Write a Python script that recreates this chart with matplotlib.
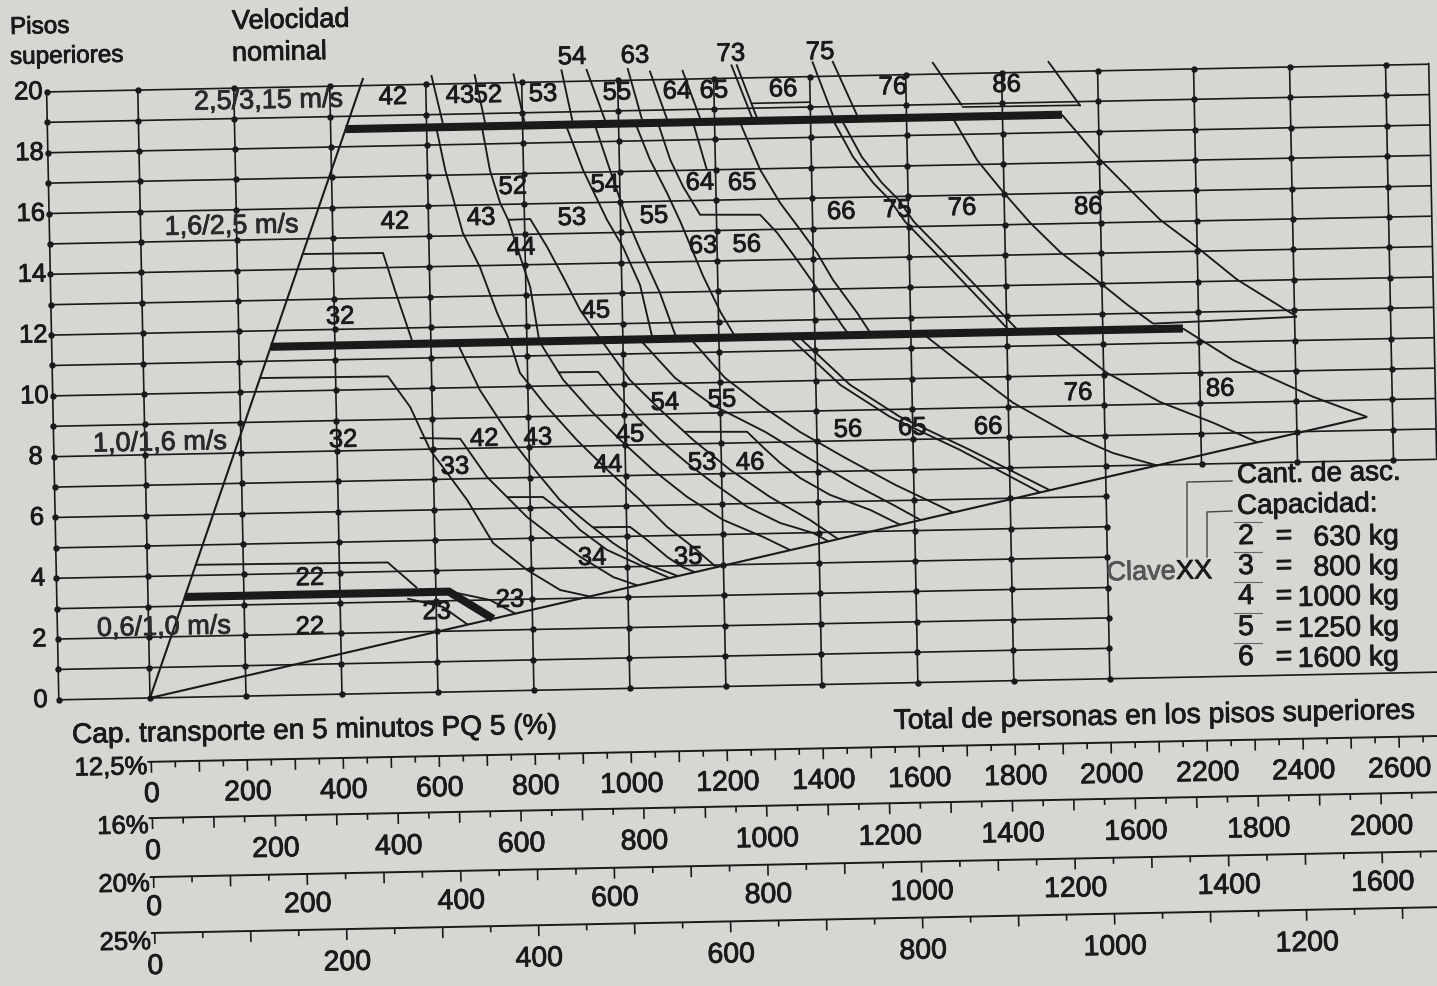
import matplotlib
matplotlib.use("Agg")
import matplotlib.pyplot as plt
import matplotlib.patheffects as pe
from matplotlib.transforms import Affine2D
from matplotlib.lines import Line2D

# ====================== DATA ======================
# x = total persons in upper floors (12,5 % scale), y = number of upper floors
floor_ticks = [0, 2, 4, 6, 8, 10, 12, 14, 16, 18, 20]
grid_floors = list(range(0, 21))
grid_persons = [0, 200, 400, 600, 800, 1000, 1200, 1400, 1600, 1800, 2000, 2200, 2400, 2600]

speed_line = [(0, 0.0), (470, 20.25)]
base_line = [(0, 0.0), (2547, 8.44)]

thick_25 = [(431, 18.58), (1924, 18.58)]
thick_16 = [(266, 11.47), (2167, 11.47)]
thick_10 = [(77, 3.3), (627, 3.3), (718, 2.38)]

# ---- band 2,5/3,15 m/s : short boundaries between 20 and 18,6 floors
top_start_p = [612, 702, 783, 883, 935, 1021, 1067, 1135, 1237, 1248, 1406, 1448, 1656, 1897]
top_start_f = [20.3, 20.3, 20.3, 20.4, 20.4, 20.4, 20.3, 20.3, 20.45, 20.45, 20.5, 20.5, 20.4, 20.35]
top_end_p = [634, 722, 804, 904, 972, 1049, 1101, 1170, 1278, 1288, 1447, 1497, 1716, 1963]
top_end_f = [18.7, 18.7, 18.7, 18.7, 18.7, 18.7, 18.7, 18.7, 18.7, 18.7, 18.7, 18.7, 18.95, 18.85]
top_step66 = [(1278, 19.16), (1400, 19.16)]
top_edge = [(1716, 18.9), (1963, 18.88)]

# ---- band 1,6/2,5 m/s
mid_c0 = [(335, 14.5), (504, 14.48), (527, 13.26), (563, 11.47)]
mid_p1 = [(620, 18.58), (637, 17.17), (671, 15.09), (705, 13.96), (739, 12.44), (765, 11.47)]
mid_p2 = [(715, 18.58), (730, 17.14), (750, 16.05), (766, 15.49), (783, 14.6), (809, 13.27), (826, 11.47)]
mid_s44 = [(766, 15.49), (812, 15.5), (846, 14.57), (878, 13.58), (912, 12.48), (955, 11.47)]
mid_p3 = [(890, 18.58), (924, 17.08), (972, 15.42), (1004, 14.52), (1038, 13.26), (1062, 11.47)]
mid_p4 = [(950, 18.58), (980, 17.07), (1010, 15.58), (1040, 14.41), (1079, 12.99), (1112, 11.47)]
mid_p5 = [(1035, 18.58), (1064, 17.37), (1098, 16.27), (1125, 15.3), (1145, 14.5), (1170, 13.5), (1205, 12.3), (1235, 11.47)]
mid_p6 = [(1082, 18.58), (1106, 17.36), (1132, 16.46), (1166, 15.53), (1291, 15.49), (1326, 14.88),
          (1366, 13.98), (1413, 12.88), (1459, 11.75), (1472, 11.47)]
mid_p7 = [(1155, 18.58), (1182, 17.0)]
mid_p8 = [(1252, 18.58), (1293, 16.97), (1333, 15.87), (1374, 14.97), (1408, 14.2), (1440, 13.3), (1489, 12.2), (1518, 11.47)]
mid_p9a = [(1446, 18.58), (1487, 17.33), (1528, 16.46), (1562, 15.89), (1593, 15.16), (1684, 13.62), (1808, 11.47)]
mid_p9b = [(1464, 18.58), (1505, 17.33), (1546, 16.46), (1580, 15.89), (1611, 15.16), (1702, 13.62), (1826, 11.47)]
mid_p10 = [(1695, 18.58), (1745, 17.15), (1798, 16.08), (1853, 15.05), (1914, 14.07), (1996, 13.03), (2052, 12.29), (2105, 11.65)]
mid_p11 = [(1924, 18.58), (2002, 17.07), (2124, 15.06), (2206, 14.05), (2282, 13.04), (2405, 11.78)]
mid_edge = [(2105, 11.65), (2405, 11.78)]

# ---- band 1,0/1,6 m/s
low_e1 = [(243, 10.45), (509, 10.42), (554, 9.4), (594, 7.97), (669, 6.3), (721, 4.87), (791, 3.96), (859, 3.28), (920, 3.05)]
low_e2 = [(573, 8.37), (657, 8.32), (711, 7.05), (793, 5.7), (846, 5.03), (902, 4.36), (970, 3.67), (1020, 3.38)]
low_a = [(655, 11.47), (700, 9.91), (735, 9.02), (775, 8.02), (816, 7.15), (862, 6.24), (918, 5.47), (971, 4.79), (1033, 4.12), (1105, 3.66)]
low_b = [(765, 11.47), (784, 10.45), (839, 9.31), (900, 8.2), (962, 7.2), (1029, 6.19), (1084, 5.29), (1137, 4.61), (1185, 3.93)]
low_c = [(826, 11.47), (874, 10.19), (929, 9.18), (990, 8.18), (1057, 7.17), (1127, 6.26), (1201, 5.48), (1284, 4.89), (1340, 4.44)]
low_d = [(955, 11.47), (1013, 10.14), (1075, 9.14), (1142, 8.13), (1218, 7.12), (1300, 6.2), (1382, 5.42), (1440, 4.77)]
low_e = [(1035, 11.47), (1107, 10.18), (1183, 9.27), (1292, 8.35), (1381, 7.46), (1478, 6.54), (1556, 5.86), (1612, 5.35)]
low_f = [(1140, 11.47), (1211, 10.15), (1283, 9.24), (1365, 8.32), (1458, 7.44), (1561, 6.52), (1681, 5.57)]
low_g1 = [(1345, 11.47), (1451, 9.84), (1553, 8.76), (1698, 7.62), (1863, 6.17)]
low_g2 = [(1365, 11.47), (1471, 9.84), (1573, 8.76), (1718, 7.62), (1883, 6.24)]
low_h = [(1625, 11.47), (1701, 10.49), (1810, 9.14), (1921, 8.11), (2016, 7.42), (2108, 6.98)]
low_i = [(1895, 11.47), (2007, 10.06), (2116, 9.07), (2226, 8.35), (2317, 7.68)]
low_j = [(2167, 11.47), (2270, 10.4), (2326, 9.96), (2435, 9.14), (2547, 8.44)]
low_s45 = [(864, 10.44), (947, 10.43), (977, 9.83), (1026, 8.92), (1073, 8.15), (1128, 7.38), (1182, 6.7),
           (1252, 5.89), (1320, 5.34), (1388, 4.99), (1420, 4.7)]
low_s46 = [(1124, 8.4), (1255, 8.36), (1287, 7.85), (1322, 7.32), (1363, 6.81), (1425, 6.23), (1508, 5.71), (1570, 5.2)]
low_s34 = [(752, 6.37), (827, 6.35), (862, 5.91), (903, 5.24), (958, 4.57), (1026, 4.05), (1085, 3.62)]
low_s35 = [(930, 5.32), (1007, 5.31), (1042, 4.87), (1083, 4.3), (1115, 3.95), (1140, 3.78)]

# ---- band 0,6/1,0 m/s
bot_step22 = [(101, 4.35), (501, 4.3), (561, 3.44)]
bot_t1 = [(630, 3.3), (712, 3.0), (765, 2.53)]
bot_t2 = [(540, 3.1), (614, 2.8), (665, 2.2)]

# ---- curve keys (Clave XX: number of lifts, capacity code)
top_labels = [("42", 531, 19.6), ("43", 671, 19.6), ("52", 729, 19.6), ("53", 844, 19.6), ("55", 998, 19.6),
              ("64", 1123, 19.6), ("65", 1200, 19.6), ("66", 1344, 19.6), ("76", 1573, 19.6), ("86", 1810, 19.6),
              ("54", 906, 20.8), ("63", 1037, 20.8), ("73", 1237, 20.8), ("75", 1423, 20.8)]
mid_labels = [("42", 530, 15.5), ("43", 710, 15.57), ("52", 777, 16.57), ("44", 792, 14.56), ("53", 899, 15.51),
              ("54", 969, 16.58), ("55", 1070, 15.52), ("64", 1167, 16.58), ("65", 1255, 16.55), ("63", 1171, 14.5),
              ("56", 1262, 14.51), ("66", 1460, 15.53), ("75", 1577, 15.56), ("76", 1712, 15.58), ("86", 1975, 15.53),
              ("45", 945, 12.44), ("32", 412, 12.41)]
low_labels = [("32", 413, 8.36), ("33", 645, 7.4), ("42", 707, 8.3), ("43", 819, 8.3), ("45", 1011, 8.34),
              ("44", 964, 7.36), ("54", 1085, 9.37), ("55", 1204, 9.43), ("53", 1160, 7.37), ("46", 1260, 7.34),
              ("34", 927, 4.32), ("35", 1127, 4.28), ("56", 1465, 8.36), ("65", 1599, 8.38), ("66", 1757, 8.36),
              ("76", 1946, 9.42), ("86", 2242, 9.46)]
bot_labels = [("22", 338, 3.84), ("22", 336, 2.23), ("23", 601, 2.64), ("23", 754, 2.99)]
speed_labels = [("2,5/3,15 m/s", 428, 19.55), ("1,6/2,5 m/s", 330, 15.45),
                ("1,0/1,6 m/s", 172, 8.37), ("0,6/1,0 m/s", 172, 2.3)]

# ---- transport-capacity scales below the chart
scale_pct = [12.5, 16, 20, 25]
scale_names = ["12,5%", "16%", "20%", "25%"]
scale_max = [2600, 2000, 1600, 1200]

# ---- legend
legend_codes = ["2", "3", "4", "5", "6"]
legend_kg = ["630 kg", "800 kg", "1000 kg", "1250 kg", "1600 kg"]

# ====================== LAYOUT / STYLE ======================
W, H = 1437, 986
BG = "#d6d6d3"
INK = "#1a1a1a"
TILT = 1.15
plt.rcParams["font.family"] = ["Liberation Sans", "DejaVu Sans"]

fig = plt.figure(figsize=(W / 100, H / 100), dpi=100)
fig.patch.set_facecolor(BG)
ax = fig.add_axes([0, 0, 1, 1])
ax.set_facecolor(BG)
ax.set_xlim(-312.5, 2681.25)
ax.set_ylim(-9.474, 22.96)
ax.axis("off")
tr = ax.transData + Affine2D().rotate_deg_around(150, H - 698, TILT)


def draw(pts, lw=1.35, color=INK, z=3, **kw):
    ax.plot([q[0] for q in pts], [q[1] for q in pts], transform=tr, color=color, lw=lw,
            zorder=z, solid_capstyle="butt", solid_joinstyle="miter", **kw)


def label(s, p, f, size=18, ha="center", color=INK, stroke=True, **kw):
    t = ax.text(p, f, s, transform=tr, rotation=TILT, rotation_mode="anchor", ha=ha, va="center",
                fontsize=size, color=color, zorder=6, **kw)
    if stroke:
        t.set_path_effects([pe.withStroke(linewidth=0.6, foreground=color)])


LEFT, RIGHT = -190, 2690

# grid
for f in grid_floors:
    x1 = 2000 if 1 <= f <= 6 else RIGHT
    draw([(LEFT, f), (x1, f)], lw=1.2, z=1)
verticals = [LEFT] + grid_persons
for p in verticals:
    f0 = 0 if p <= 2000 else 7
    draw([(p, f0), (p, 20)], lw=1.2, z=1)
    ax.plot([p] * (21 - f0), list(range(f0, 21)), "o", ms=3.6, color=INK, transform=tr, zorder=2)
draw([(RIGHT, 7), (RIGHT, 20.05)], lw=1.2, z=1)

# y tick labels
for f in floor_ticks:
    label(str(f), -228, f, size=18.5)

# limits of the nomogram
draw(speed_line, lw=1.5)
draw(base_line, lw=1.5)

# top band
for ps, fs, pe_, fe in zip(top_start_p, top_start_f, top_end_p, top_end_f):
    draw([(ps, fs), (pe_, fe)], lw=1.35)
draw(top_step66, lw=1.2)
draw(top_edge, lw=1.2)

# middle band
for c in [mid_c0, mid_p1, mid_p2, mid_s44, mid_p3, mid_p4, mid_p5, mid_p6, mid_p7, mid_p8,
          mid_p9a, mid_p9b, mid_p10, mid_p11, mid_edge]:
    draw(c)

# lower band
for c in [low_e1, low_e2, low_a, low_b, low_c, low_d, low_e, low_f, low_g1, low_g2, low_h,
          low_i, low_j, low_s45, low_s46, low_s34, low_s35]:
    draw(c)

# lowest band
for c in [bot_step22, bot_t1, bot_t2]:
    draw(c)

# thick speed-limit lines
for c in [thick_25, thick_16, thick_10]:
    draw(c, lw=5.8, z=4)

# curve keys
for s, p, f in top_labels + mid_labels + low_labels + bot_labels:
    label(s, p, f, size=18.5)
for s, p, f in speed_labels:
    label(s, p, f, size=19.5, ha="right", color="#2a2a2a")

# scales
scale_line_f = [-2.1, -3.95, -5.89, -7.73]
scale_text_f = [-3.19, -5.07, -6.91, -8.85]
scale_name_f = [-2.27, -4.21, -6.12, -8.03]
for pct, name, vmax, lf, tf, nf in zip(scale_pct, scale_names, scale_max, scale_line_f, scale_text_f, scale_name_f):
    k = pct / 12.5
    draw([(-8, lf), (2760, lf)], lw=1.4)
    v = 0
    while v * k <= 2700:
        ln = 0.36 if v % 100 == 0 else 0.2
        draw([(v * k, lf), (v * k, lf - ln)], lw=1.2)
        v += 50
    for val in range(0, vmax + 1, 200):
        label(str(val), val * k, tf, size=20.5)
    label(name, -8, nf, size=18.5, ha="right")

label("Cap. transporte en 5 minutos PQ 5 (%)", -164, -1.2, size=20.2, ha="left")
label("Total de personas en los pisos superiores", 1548, -1.28, size=20.4, ha="left")


# header & legend (figure pixel positions)
def ftext(x, y, s, size=18, ha="left", color=INK):
    t = fig.text(x / W, 1 - y / H, s, fontsize=size, ha=ha, va="center", color=color,
                 rotation=TILT, rotation_mode="anchor")
    t.set_path_effects([pe.withStroke(linewidth=0.6, foreground=color)])


ftext(10, 28, "Pisos", 17.5)
ftext(10, 58, "superiores", 17.5)
ftext(232, 22, "Velocidad", 19.5)
ftext(232, 54, "nominal", 19.5)

ftext(1237, 476, "Cant. de asc.", 20)
ftext(1237, 507, "Capacidad:", 20)
rows_y = [537, 567, 597, 628, 658]
for code, kg, y in zip(legend_codes, legend_kg, rows_y):
    ftext(1246, y, code, 20.5, ha="center")
    ftext(1284, y, "=", 20.5, ha="center")
    ftext(1399, y, kg, 20.5, ha="right")
    fig.add_artist(Line2D([1234 / W, 1262 / W], [1 - (y - 15) / H] * 2, transform=fig.transFigure,
                          color="#666666", lw=0.8))
ftext(1176, 572, "Clave", 19.5, ha="right", color="#555555")
ftext(1176, 572, "XX", 19.5, ha="left")
fig.add_artist(Line2D([1187 / W, 1187 / W, 1232 / W], [1 - 557 / H, 1 - 482 / H, 1 - 481 / H],
                      transform=fig.transFigure, color="#444444", lw=1.0))
fig.add_artist(Line2D([1207 / W, 1207 / W, 1232 / W], [1 - 557 / H, 1 - 512 / H, 1 - 511 / H],
                      transform=fig.transFigure, color="#444444", lw=1.0))

fig.savefig("out.png", dpi=100, facecolor=BG)
